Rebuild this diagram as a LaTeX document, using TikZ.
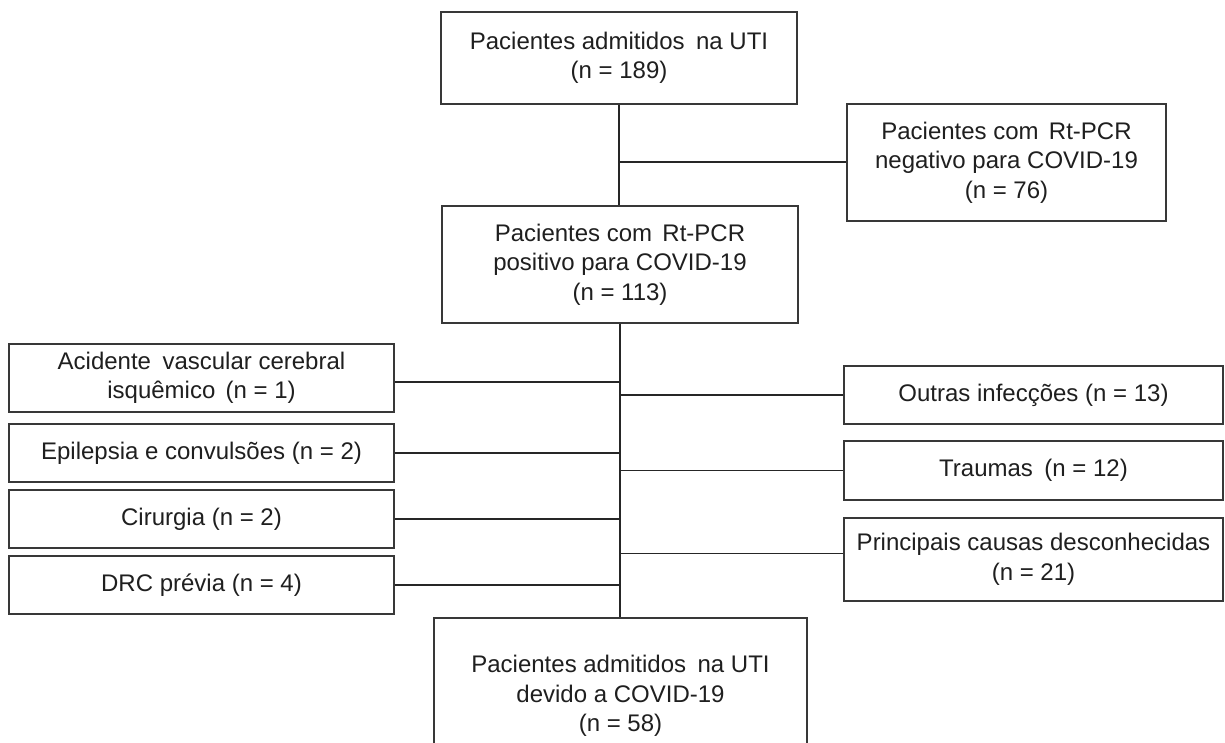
\documentclass[tikz,border=0pt]{standalone}
\usepackage{fontspec}
\setmainfont{Liberation Sans}
\begin{document}
\begin{tikzpicture}[x=1pt,y=-1pt,
  box/.style={draw=black!78, line width=1.4pt, align=center, inner sep=0pt,
    font=\fontsize{24}{29.5}\selectfont, text=black!88},
  link/.style={draw=black!85, line width=1.3pt}]
\useasboundingbox (0,0) rectangle (1225,743);
\clip (0,0) rectangle (1225,743);
\fill[white] (0,0) rectangle (1225,743);
% main column
\node[box, minimum width=356pt, minimum height=92pt] (top) at (619,58)
  {Pacientes admitidos\hspace{0.2em} na UTI\\(n = 189)};
\node[box, minimum width=319pt, minimum height=117pt] (neg) at (1006.5,162.5)
  {Pacientes com\hspace{0.15em} Rt-PCR\\negativo para COVID-19\\(n = 76)};
\node[box, minimum width=356pt, minimum height=117pt] (pos) at (620,264.5)
  {Pacientes com\hspace{0.15em} Rt-PCR\\positivo para COVID-19\\(n = 113)};
\node[box, minimum width=373pt, minimum height=156pt] (bot) at (620.5,696)
  {Pacientes admitidos\hspace{0.2em} na UTI\\devido a COVID-19\\(n = 58)};
% left boxes
\node[box, minimum width=385pt, minimum height=68pt] (l1) at (201.5,378)
  {Acidente\hspace{0.2em} vascular cerebral\\isquêmico\hspace{0.15em} (n = 1)};
\node[box, minimum width=385pt, minimum height=58pt] (l2) at (201.5,453)
  {Epilepsia e convulsões (n = 2)};
\node[box, minimum width=385pt, minimum height=58pt] (l3) at (201.5,519)
  {Cirurgia (n = 2)};
\node[box, minimum width=385pt, minimum height=58pt] (l4) at (201.5,585)
  {DRC prévia (n = 4)};
% right boxes
\node[box, minimum width=379pt, minimum height=58pt] (r1) at (1033.5,395)
  {Outras infecções (n = 13)};
\node[box, minimum width=379pt, minimum height=59pt] (r2) at (1033.5,470.5)
  {Traumas\hspace{0.2em} (n = 12)};
\node[box, minimum width=379pt, minimum height=83pt] (r3) at (1033.5,559.5)
  {Principais causas desconhecidas\\(n = 21)};
% connectors
\draw[link] (top.south) -- (top.south |- pos.north);
\coordinate (b1) at (619,162);
\draw[link] (b1) -- (b1 -| neg.west);
\draw[link] (pos.south) -- (pos.south |- bot.north);
\draw[link] ([yshift=-4pt]l1.east) -- ([yshift=-4pt]l1.east -| pos.south);
\draw[link] (l2.east) -- (l2.east -| pos.south);
\draw[link] (l3.east) -- (l3.east -| pos.south);
\draw[link] (l4.east) -- (l4.east -| pos.south);
\draw[link] (r1.west) -- (r1.west -| pos.south);
\draw[link] (r2.west) -- (r2.west -| pos.south);
\draw[link] ([yshift=6pt]r3.west) -- ([yshift=6pt]r3.west -| pos.south);
\end{tikzpicture}
\end{document}
